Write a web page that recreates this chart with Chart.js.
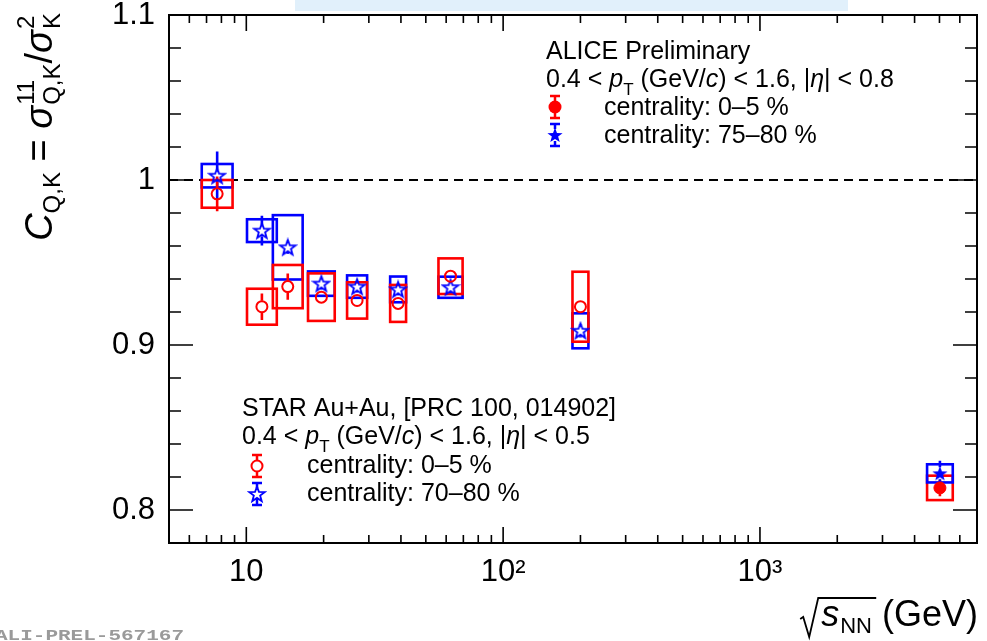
<!DOCTYPE html>
<html>
<head>
<meta charset="utf-8">
<script src="https://cdn.jsdelivr.net/npm/chart.js@4.4.0/dist/chart.umd.min.js"></script>
<style>
html, body { margin: 0; padding: 0; background: #fff; }
canvas { display: block; }
</style>
</head>
<body>
<canvas id="c" width="987" height="641"></canvas>
<script>
// values
var starEnergy = [7.7, 11.5, 14.5, 19.6, 27, 39, 62.4, 200];
var starCentral = [0.9916, 0.9232, 0.9354, 0.9290, 0.9270, 0.9252, 0.9417, 0.9232];
var starCentralStat = [0.0105, 0.0080, 0.0080, 0.0030, 0.0030, 0.0030, 0.0030, 0.0030];
var starCentralSys = [0.0084, 0.0109, 0.0131, 0.0144, 0.0110, 0.0112, 0.0108, 0.0212];
var starPeriph = [1.0026, 0.9693, 0.9592, 0.9372, 0.9354, 0.9337, 0.9350, 0.9086];
var starPeriphStat = [0.0146, 0.0090, 0.0040, 0.0030, 0.0030, 0.0030, 0.0030, 0.0040];
var starPeriphSys = [0.0071, 0.0069, 0.0195, 0.0074, 0.0068, 0.0078, 0.0064, 0.0106];
var starBoxDex = [0.060, 0.058, 0.058, 0.052, 0.039, 0.031, 0.047, 0.031];

var aliceEnergy = [5020];
var aliceCentral = [0.8134];
var aliceCentralStat = [0.0050];
var aliceCentralSys = [0.0074];
var alicePeriph = [0.8222];
var alicePeriphStat = [0.0076];
var alicePeriphSys = [0.0055];
var aliceBoxDex = [0.050];

var xTicks = [10, 100, 1000];
var xTickLabels = ['10', '10\u00b2', '10\u00b3'];
var yTicks = [0.8, 0.9, 1.0, 1.1];
var yTickLabels = ['0.8', '0.9', '1', '1.1'];

var RED = '#ff0000', BLUE = '#0000ff';
var FONT = '"Liberation Sans", Arial, Helvetica, sans-serif';

function pts(xs, ys) {
  return xs.map(function(x, i) { return { x: x, y: ys[i] }; });
}

function starPath(g, cx, cy, R, r) {
  g.beginPath();
  for (var k = 0; k < 10; k++) {
    var a = -Math.PI / 2 + k * Math.PI / 5;
    var rad = k % 2 ? r : R;
    g.lineTo(cx + rad * Math.cos(a), cy + rad * Math.sin(a));
  }
  g.closePath();
}
function makeStar(filled) {
  var c = document.createElement('canvas');
  c.width = 20; c.height = 20;
  var g = c.getContext('2d');
  starPath(g, 10, 10.6, 8, 3.3);
  if (filled) { g.fillStyle = BLUE; g.fill(); }
  else { g.strokeStyle = BLUE; g.lineWidth = 1.8; g.stroke(); }
  return c;
}
var openStar = makeStar(false), fullStar = makeStar(true);

function fnt(p) { return (p.i ? 'italic ' : '') + p.s + 'px ' + FONT; }
function richWidth(g, parts) {
  var w = 0;
  parts.forEach(function(p) {
    g.font = fnt(p);
    if (p.stack) p.w = Math.max(g.measureText(p.stack[0]).width, g.measureText(p.stack[1]).width);
    else p.w = g.measureText(p.t).width;
    w += p.w + (p.gap || 0);
  });
  return w;
}
function drawRich(g, x, y, parts) {
  var w = richWidth(g, parts);
  g.fillStyle = '#000';
  g.textAlign = 'left'; g.textBaseline = 'alphabetic';
  parts.forEach(function(p) {
    g.font = fnt(p);
    if (p.stack) {
      g.fillText(p.stack[0], x, y + p.up);
      g.fillText(p.stack[1], x, y + p.dn);
    } else {
      g.fillText(p.t, x, y + (p.dy || 0));
    }
    x += p.w + (p.gap || 0);
  });
  return w;
}

// a marker with error bar and caps, used in the text legends
function legendMark(g, x, y, color, kind) {
  g.save();
  g.strokeStyle = color; g.fillStyle = color; g.lineWidth = 2.5;
  g.beginPath();
  g.moveTo(x, y - 11); g.lineTo(x, y - 6);
  g.moveTo(x, y + 6); g.lineTo(x, y + 11);
  g.moveTo(x - 5, y - 11); g.lineTo(x + 5, y - 11);
  g.moveTo(x - 5, y + 11); g.lineTo(x + 5, y + 11);
  g.stroke();
  if (kind === 'dot') { g.beginPath(); g.arc(x, y, 6.5, 0, 2 * Math.PI); g.fill(); }
  if (kind === 'ring') { g.lineWidth = 2; g.beginPath(); g.arc(x, y, 5.5, 0, 2 * Math.PI); g.stroke(); }
  if (kind === 'star') g.drawImage(openStar, x - 10, y - 10);
  if (kind === 'fstar') g.drawImage(fullStar, x - 10, y - 10);
  g.restore();
}

function boxes(chart, xs, ys, sys, dex, color) {
  var g = chart.ctx, sx = chart.scales.x, sy = chart.scales.y;
  g.strokeStyle = color; g.lineWidth = 2.6;
  xs.forEach(function(x, i) {
    var x0 = sx.getPixelForValue(x / Math.pow(10, dex[i]));
    var x1 = sx.getPixelForValue(x * Math.pow(10, dex[i]));
    var y0 = sy.getPixelForValue(ys[i] + sys[i]);
    var y1 = sy.getPixelForValue(ys[i] - sys[i]);
    g.strokeRect(x0, y0, x1 - x0, y1 - y0);
  });
}
function errBars(chart, xs, ys, err, color) {
  var g = chart.ctx, sx = chart.scales.x, sy = chart.scales.y;
  g.strokeStyle = color; g.lineWidth = 2.6;
  xs.forEach(function(x, i) {
    var px = sx.getPixelForValue(x), pc = sy.getPixelForValue(ys[i]);
    var pt = sy.getPixelForValue(ys[i] + err[i]), pb = sy.getPixelForValue(ys[i] - err[i]);
    g.beginPath();
    if (pc - pt > 6) { g.moveTo(px, pt); g.lineTo(px, pc - 6); }
    if (pb - pc > 6) { g.moveTo(px, pc + 6); g.lineTo(px, pb); }
    g.stroke();
  });
}

var overlay = {
  id: 'overlay',
  beforeDraw: function(chart) {
    var g = chart.ctx;
    g.save();
    g.fillStyle = '#fff'; g.fillRect(0, 0, chart.width, chart.height);
    g.fillStyle = '#e1f0fb'; g.fillRect(295, 0, 553, 11);
    g.restore();
  },
  beforeDatasetsDraw: function(chart) {
    var g = chart.ctx, a = chart.chartArea, sy = chart.scales.y;
    g.save();
    var y1 = sy.getPixelForValue(1);
    g.strokeStyle = '#000'; g.lineWidth = 2; g.setLineDash([9, 6]);
    g.beginPath(); g.moveTo(a.left, y1); g.lineTo(a.right, y1); g.stroke();
    g.setLineDash([]);
    boxes(chart, starEnergy, starPeriph, starPeriphSys, starBoxDex, BLUE);
    errBars(chart, starEnergy, starPeriph, starPeriphStat, BLUE);
    boxes(chart, starEnergy, starCentral, starCentralSys, starBoxDex, RED);
    errBars(chart, starEnergy, starCentral, starCentralStat, RED);
    boxes(chart, aliceEnergy, aliceCentral, aliceCentralSys, aliceBoxDex, RED);
    errBars(chart, aliceEnergy, aliceCentral, aliceCentralStat, RED);
    boxes(chart, aliceEnergy, alicePeriph, alicePeriphSys, aliceBoxDex, BLUE);
    errBars(chart, aliceEnergy, alicePeriph, alicePeriphStat, BLUE);
    g.restore();
  },
  afterDraw: function(chart) {
    var g = chart.ctx, a = chart.chartArea, sx = chart.scales.x, sy = chart.scales.y;
    g.save();
    // frame
    g.strokeStyle = '#000'; g.lineWidth = 2;
    g.strokeRect(a.left, a.top, a.right - a.left, a.bottom - a.top);
    // inward ticks
    g.lineWidth = 1.6;
    g.beginPath();
    for (var k = 40; k <= 54; k++) {
      var py = sy.getPixelForValue(k * 0.02);
      var len = k % 5 === 0 ? 24 : 12;
      g.moveTo(a.left, py); g.lineTo(a.left + len, py);
      g.moveTo(a.right, py); g.lineTo(a.right - len, py);
    }
    [1, 10, 100, 1000].forEach(function(d) {
      for (var m = 1; m <= 9; m++) {
        var v = m * d;
        if (v <= sx.min || v >= sx.max) continue;
        var px = sx.getPixelForValue(v);
        var l = m === 1 ? 16 : 8;
        g.moveTo(px, a.bottom); g.lineTo(px, a.bottom - l);
        g.moveTo(px, a.top); g.lineTo(px, a.top + l);
      }
    });
    g.stroke();

    // y title, rotated
    var yt = [
      { t: 'C', s: 38, i: true },
      { t: 'Q,K', s: 24, dy: 8 },
      { t: ' = ', s: 38 },
      { t: '\u03c3', s: 38, i: true, gap: 1 },
      { stack: ['11', 'Q,K'], s: 24, up: -18, dn: 8 },
      { t: '/', s: 38 },
      { t: '\u03c3', s: 38, i: true, gap: 1 },
      { stack: ['2', 'K'], s: 24, up: -18, dn: 8 }
    ];
    var wy = richWidth(g, yt);
    g.save();
    g.translate(52, 13 + wy);
    g.rotate(-Math.PI / 2);
    drawRich(g, 0, 0, yt);
    g.restore();

    // x title with radical
    var xt = [
      { t: 's', s: 36, i: true, gap: 1 },
      { t: 'NN', s: 22, dy: 7 },
      { t: ' (GeV)', s: 36 }
    ];
    var wx = richWidth(g, xt);
    var bx = 978 - wx, by = 626;
    drawRich(g, bx, by, xt);
    g.strokeStyle = '#000'; g.lineWidth = 1.8;
    g.beginPath();
    g.moveTo(bx - 21, by - 7); g.lineTo(bx - 18, by - 9);
    g.lineTo(bx - 12, by + 11); g.lineTo(bx - 3, by - 28);
    g.lineTo(bx + 55, by - 28);
    g.stroke();

    // ALICE text block
    var fs = 25;
    drawRich(g, 546, 59, [{ t: 'ALICE Preliminary', s: fs }]);
    var kin = function(eta) {
      return [
        { t: '0.4 < ', s: fs }, { t: 'p', s: fs, i: true },
        { t: 'T', s: 17, dy: 8 }, { t: ' (GeV/', s: fs }, { t: 'c', s: fs, i: true },
        { t: ') < 1.6, |', s: fs }, { t: '\u03b7', s: fs, i: true }, { t: '| < ' + eta, s: fs }
      ];
    };
    drawRich(g, 546, 87, kin('0.8'));
    drawRich(g, 604, 115, [{ t: 'centrality: 0\u20135 %', s: fs }]);
    drawRich(g, 604, 143, [{ t: 'centrality: 75\u201380 %', s: fs }]);
    legendMark(g, 555, 107, RED, 'dot');
    legendMark(g, 555, 135, BLUE, 'fstar');

    // STAR text block
    drawRich(g, 242, 416, [{ t: 'STAR Au+Au, [PRC 100, 014902]', s: fs }]);
    drawRich(g, 242, 444, kin('0.5'));
    drawRich(g, 307, 473, [{ t: 'centrality: 0\u20135 %', s: fs }]);
    drawRich(g, 307, 501, [{ t: 'centrality: 70\u201380 %', s: fs }]);
    legendMark(g, 257, 466, RED, 'ring');
    legendMark(g, 257, 494, BLUE, 'star');

    // figure id
    g.save();
    g.fillStyle = '#9a9a9a';
    g.font = 'bold 14px "Liberation Mono", "DejaVu Sans Mono", monospace';
    g.translate(-5, 639.5);
    g.scale(1.5, 1);
    g.fillText('ALI-PREL-567167', 0, 0);
    g.restore();
    g.restore();
  }
};

new Chart(document.getElementById('c'), {
  type: 'scatter',
  data: {
    datasets: [
      { data: pts(aliceEnergy, aliceCentral), pointStyle: 'circle', pointRadius: 6,
        backgroundColor: RED, borderColor: RED, borderWidth: 1 },
      { data: pts(aliceEnergy, alicePeriph), pointStyle: fullStar },
      { data: pts(starEnergy, starCentral), pointStyle: 'circle', pointRadius: 5.5,
        backgroundColor: 'rgba(0,0,0,0)', borderColor: RED, borderWidth: 2 },
      { data: pts(starEnergy, starPeriph), pointStyle: openStar }
    ]
  },
  options: {
    responsive: false,
    animation: false,
    devicePixelRatio: 1,
    layout: { padding: { top: 15, right: 10, left: 0, bottom: 0 } },
    plugins: { legend: { display: false }, tooltip: { enabled: false } },
    scales: {
      x: {
        type: 'logarithmic', min: 5, max: 7000,
        grid: { display: false, drawTicks: false }, border: { display: false },
        afterBuildTicks: function(s) { s.ticks = xTicks.map(function(v) { return { value: v }; }); },
        afterFit: function(s) { s.height = 98; s.paddingLeft = 0; s.paddingRight = 0; },
        ticks: {
          autoSkip: false, maxRotation: 0, padding: 11, color: '#000',
          font: { family: FONT, size: 31 },
          callback: function(v, i) { return xTickLabels[i]; }
        }
      },
      y: {
        min: 0.78, max: 1.1,
        grid: { display: false, drawTicks: false }, border: { display: false },
        afterBuildTicks: function(s) { s.ticks = yTicks.map(function(v) { return { value: v }; }); },
        afterFit: function(s) { s.width = 169; s.paddingTop = 0; s.paddingBottom = 0; },
        ticks: {
          padding: 14, color: '#000',
          font: { family: FONT, size: 31 },
          callback: function(v, i) { return yTickLabels[i]; }
        }
      }
    }
  },
  plugins: [overlay]
});
</script>
</body>
</html>
